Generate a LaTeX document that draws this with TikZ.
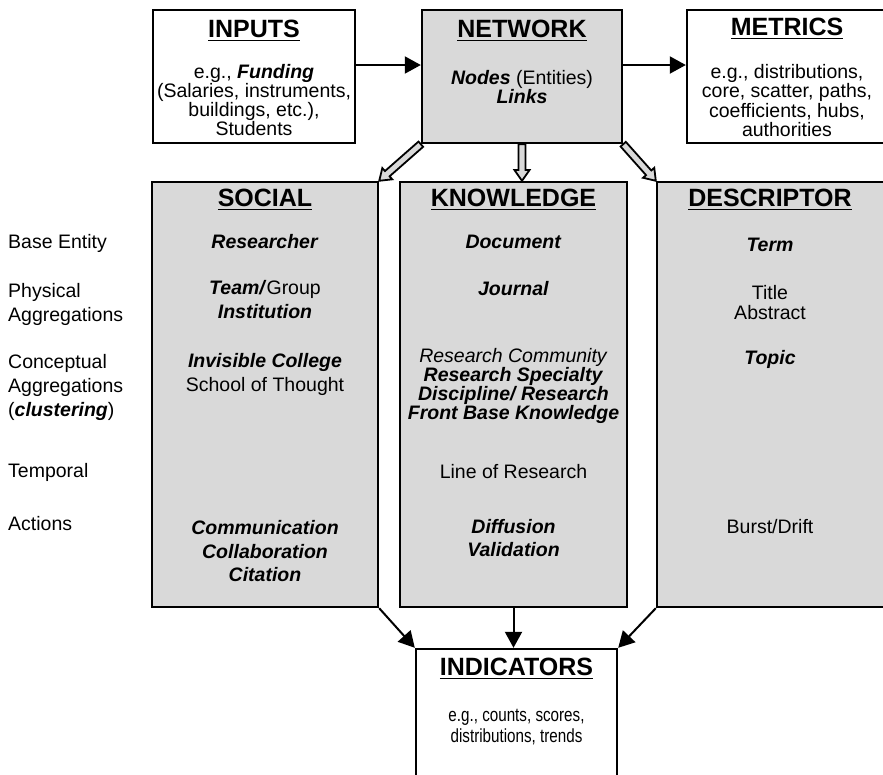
\documentclass[tikz,border=0pt]{standalone}
\usepackage{fontspec}
\setmainfont{Liberation Sans}
\newfontfamily\narrowfont[FakeStretch=0.8]{Liberation Sans}
\usetikzlibrary{arrows.meta,shapes.arrows,calc}
\definecolor{boxgray}{RGB}{217,217,217}
\newcommand\undertitle[1]{\setbox0\hbox{#1}\rlap{\rule[-3.5pt]{\wd0}{1.5pt}}\box0}
\newcommand\bi[1]{\textbf{\textit{#1}}}
\newcommand\fatarrow[2]{\path let \p1=($(#2)-(#1)$) in node[fat={veclen(\x1,\y1)}, rotate={atan2(\y1,\x1)}] at (#1) {};}

\begin{document}
\begin{tikzpicture}[x=1pt,y=-1pt,
  plain/.style={draw, line width=2.4pt, fill=white, inner sep=0pt},
  shaded/.style={plain, fill=boxgray},
  title/.style={font=\fontsize{25}{28}\selectfont\bfseries, inner sep=0pt},
  txt/.style={font=\fontsize{19.5}{24}\selectfont, align=center, inner sep=0pt},
  tight/.style={txt, font=\fontsize{19.5}{19.3}\selectfont},
  lbl/.style={font=\fontsize{19.5}{24}\selectfont, align=left, anchor=west, inner sep=0pt},
  arr/.style={line width=2pt, -{Triangle[length=16pt,width=17pt]}},
  fat/.style={single arrow, draw, line width=1.8pt, fill=boxgray, inner sep=2.6pt, outer sep=0pt,
    single arrow head extend=4pt, single arrow tip angle=70, anchor=tail, minimum height={#1}}]
\useasboundingbox (0,0) rectangle (883,774);

% top row
\node[plain, minimum width=202pt, minimum height=133pt] (inputs) at (254,76.5) {};
\node[shaded, minimum width=200pt, minimum height=133pt] (network) at (522,76.5) {};
\node[plain, minimum width=200pt, minimum height=133pt] (metrics) at (787,76.5) {};

\node[title] (inputs-t) at (254,31) {\undertitle{INPUTS}};
\node[tight] (inputs-b) at (254,100) {e.g., \bi{Funding}\\(Salaries, instruments,\\buildings, etc.),\\Students};
\node[title] (network-t) at (522,31) {\undertitle{NETWORK}};
\node[tight] (network-b) at (522,87) {\bi{Nodes} (Entities)\\\bi{Links}};
\node[title] (metrics-t) at (787,29) {\undertitle{METRICS}};
\node[tight] (metrics-b) at (787,100.5) {e.g., distributions,\\core, scatter, paths,\\coefficients, hubs,\\authorities};

\draw[arr] ([yshift=11.5pt]inputs.east) -- ([yshift=11.5pt]network.west);
\draw[arr] ([yshift=11.5pt]network.east) -- ([yshift=11.5pt]metrics.west);

% columns
\node[shaded, minimum width=226pt, minimum height=425pt] (social) at (265,394.5) {};
\node[shaded, minimum width=227pt, minimum height=425pt] (knowledge) at (513.5,394.5) {};
\node[shaded, minimum width=229pt, minimum height=425pt] (descriptor) at (771.5,394.5) {};

\fatarrow{network.south west}{social.north east}
\fatarrow{network.south}{network.south |- knowledge.north}
\fatarrow{network.south east}{descriptor.north west}

% row labels
\node[lbl] (base) at (8,243) {Base Entity};
\node[lbl] (phys) at (8,304) {Physical\\Aggregations};
\node[lbl] (conc) at (8,387) {Conceptual\\Aggregations\\(\bi{clustering})};
\node[lbl] (temp) at (8,472) {Temporal};
\node[lbl] (act) at (8,524) {Actions};

% social
\node[title] (social-t) at (265,200) {\undertitle{SOCIAL}};
\node[txt] (soc1) at (265,242) {\bi{Researcher}};
\node[txt] (soc2) at (265,300) {\bi{Team/}Group\\\bi{Institution}};
\node[txt] (soc3) at (265,374.5) {\bi{Invisible College}\\School of Thought};
\node[txt, font=\fontsize{19.5}{23.5}\selectfont] (soc4) at (265,551.5) {\bi{Communication}\\\bi{Collaboration}\\\bi{Citation}};

% knowledge
\node[title] (knowledge-t) at (513.5,200) {\undertitle{KNOWLEDGE}};
\node[txt] (kno1) at (513.5,242) {\bi{Document}};
\node[txt] (kno2) at (513.5,289) {\bi{Journal}};
\node[tight] (kno3) at (513.5,386) {\textit{Research Community}\\\bi{Research Specialty}\\\bi{Discipline/ Research}\\\bi{Front Base Knowledge}};
\node[txt] (kno4) at (513.5,472) {Line of Research};
\node[txt, font=\fontsize{19.5}{23}\selectfont] (kno5) at (513.5,538.5) {\bi{Diffusion}\\\bi{Validation}};

% descriptor
\node[title] (descriptor-t) at (770,200) {\undertitle{DESCRIPTOR}};
\node[txt] (des1) at (770,245) {\bi{Term}};
\node[txt, font=\fontsize{19.5}{20}\selectfont] (des2) at (770,303) {Title\\Abstract};
\node[txt] (des3) at (770,359) {\bi{Topic}};
\node[txt] (des4) at (770,527) {Burst/Drift};

% indicators
\node[plain, minimum width=201pt, minimum height=171pt] (indicators) at (516.5,734.5) {};
\node[title] (indicators-t) at (516.5,669) {\undertitle{INDICATORS}};
\node[txt, font=\narrowfont\fontsize{19}{20.5}\selectfont] (indicators-b) at (516.5,727) {e.g., counts, scores,\\distributions, trends};

\draw[arr] (social.south east) -- (indicators.north west);
\draw[arr] (knowledge.south) -- (knowledge.south |- indicators.north);
\draw[arr] (descriptor.south west) -- (indicators.north east);
\end{tikzpicture}
\end{document}
